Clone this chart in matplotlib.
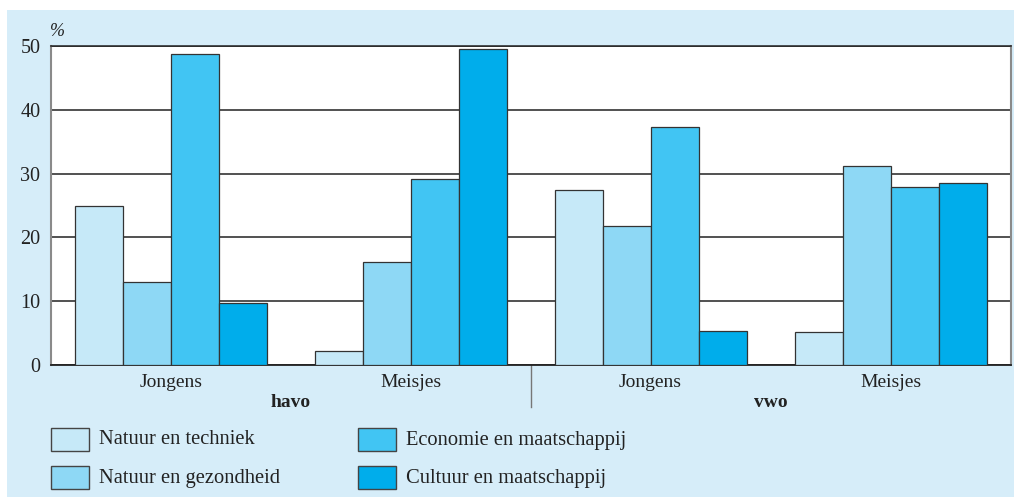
import numpy as np
import matplotlib.pyplot as plt
from matplotlib.patches import Rectangle

# data (percentages)
groups = ["Jongens", "Meisjes", "Jongens", "Meisjes"]
schools = ["havo", "vwo"]
series = ["Natuur en techniek", "Natuur en gezondheid",
          "Economie en maatschappij", "Cultuur en maatschappij"]
natuur_techniek = [25.0, 2.2, 27.5, 5.1]
natuur_gezondheid = [13.0, 16.2, 21.8, 31.2]
economie = [48.8, 29.2, 37.3, 27.9]
cultuur = [9.7, 49.5, 5.4, 28.6]
values = [natuur_techniek, natuur_gezondheid, economie, cultuur]

colors = ["#c6e9f8", "#8ed8f5", "#41c5f3", "#00adeb"]
panel = "#d6edf9"

plt.rcParams['font.family'] = ['Liberation Serif', 'DejaVu Serif']

fig = plt.figure(figsize=(10.14, 4.97), dpi=100)
# light blue panel behind everything
fig.patches.append(Rectangle((7 / 1014, 0), 1, 1 - 10 / 497, transform=fig.transFigure,
                             facecolor=panel, edgecolor='none', zorder=-10))

ax = fig.add_axes([50.7 / 1014, 1 - 365 / 497, (1010.5 - 50.7) / 1014, (365 - 46) / 497])
ax.set_facecolor('white')

x = np.arange(len(groups))
w = 0.2
for i, (vals, c) in enumerate(zip(values, colors)):
    ax.bar(x + (i - 1.5) * w, vals, width=w, color=c, edgecolor='#333333',
           linewidth=0.9, zorder=3)

ax.set_xlim(-0.5, 3.5)
ax.set_ylim(0, 50)
ax.set_yticks(range(0, 51, 10))
ax.yaxis.grid(True, color='#222222', linewidth=1.1, zorder=0)
ax.set_axisbelow(True)
ax.tick_params(axis='y', length=0, pad=7.5, labelsize=14.5, colors='#222222')
ax.set_xticks(x)
ax.set_xticklabels(groups)
ax.tick_params(axis='x', length=0, pad=6.5, labelsize=14, colors='#222222')

for s in ['left', 'right']:
    ax.spines[s].set_color('#8a8a8a')
    ax.spines[s].set_linewidth(1.5)
ax.spines['top'].set_color('#222222')
ax.spines['top'].set_linewidth(1.1)
ax.spines['bottom'].set_color('#222222')
ax.spines['bottom'].set_linewidth(1.3)

ax.text(-0.505, 50.9, "%", fontsize=13, color='#222222', ha='left', va='bottom', style='italic')

# school labels under the groups and separator
for k, name in enumerate(schools):
    ax.text(0.5 + 2 * k, -5.8, name, fontsize=14, fontweight='bold', ha='center',
            va='center', color='#222222')
ax.plot([1.5, 1.5], [0, -6.6], color='#777777', linewidth=1.0, clip_on=False)

# legend, two columns
sq_x = [50.7, 358]
sq_y = [428, 466]
for i, (name, c) in enumerate(zip(series, colors)):
    col, row = divmod(i, 2)
    x0 = sq_x[col] / 1014
    y0 = 1 - (sq_y[row] + 23) / 497
    fig.patches.append(Rectangle((x0, y0), 38 / 1014, 23 / 497, transform=fig.transFigure,
                                 facecolor=c, edgecolor='#444444', linewidth=1.0))
    fig.text((sq_x[col] + 48.5) / 1014, 1 - (sq_y[row] + 12) / 497, name, fontsize=14.8,
             va='center', ha='left', color='#222222')

fig.savefig("out.png", dpi=100, facecolor='white')
